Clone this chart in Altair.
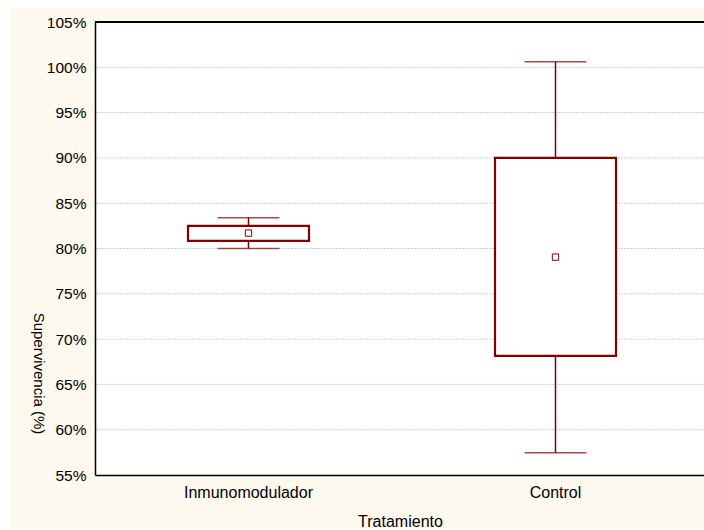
import altair as alt
import pandas as pd

# Group statistics (survival, %)
grupos = ["Inmunomodulador", "Control"]
media = [81.7, 79.05]
caja_inf = [80.85, 68.15]
caja_sup = [82.5, 90.0]
bigote_inf = [80.0, 57.45]
bigote_sup = [83.4, 100.6]

# Y axis ticks and dotted reference lines
marcas_y = [55, 60, 65, 70, 75, 80, 85, 90, 95, 100, 105]
rejilla = [60, 65, 70, 75, 80, 85, 90, 95, 100]
borde_sup = [105]

ROJO = "#800000"
CREMA = "#FEF9EE"
FUENTE = "Liberation Sans"

df = pd.DataFrame({
    "grupo": grupos,
    "media": media,
    "caja_inf": caja_inf,
    "caja_sup": caja_sup,
    "bigote_inf": bigote_inf,
    "bigote_sup": bigote_sup,
})

escala_y = alt.Scale(domain=[55, 105], nice=False, zero=False)
eje_y = alt.Axis(
    values=marcas_y, labelExpr="datum.value + '%'", grid=False, ticks=False,
    labelFontSize=15.5, labelPadding=9, labelColor="black",
    domainColor="black", domainWidth=1.5, zindex=1,
    title="Supervivencia (%)", titleAngle=90, titleFontSize=15,
    titleFontWeight="normal", titleColor="black", titleX=-57, titleY=351,
    titleAlign="center", titleBaseline="middle",
)
eje_x = alt.Axis(
    labelAngle=0, ticks=False, labelFontSize=16, labelPadding=22,
    labelBaseline="alphabetic", labelColor="black",
    domainColor="black", domainWidth=1.5, zindex=1,
    title="Tratamiento", titleFontSize=16, titleFontWeight="normal",
    titleColor="black", titleX=305, titleY=51, titleAlign="center",
    titleBaseline="alphabetic",
)
# the plotting frame runs past the right edge of the figure
escala_x = alt.Scale(domain=grupos, range=[0, 614], paddingInner=0, paddingOuter=0)


def y_campo(campo):
    return alt.Y(f"{campo}:Q", scale=escala_y, axis=eje_y)


x_grupo = alt.X("grupo:N", scale=escala_x, axis=eje_x)

# cream panel behind the whole figure, white plotting area on top of it
fondo = alt.Chart(alt.Data(values=[{}])).mark_rect(color=CREMA).encode(
    x=alt.value(-85), x2=alt.value(630), y=alt.value(-14), y2=alt.value(506)
)
area = alt.Chart(alt.Data(values=[{}])).mark_rect(color="white").encode(
    x=alt.value(0), x2=alt.value(630), y=alt.value(0), y2=alt.value(453)
)

lineas = alt.Chart(pd.DataFrame({"v": rejilla})).mark_rule(
    color="#cfcfcf", strokeDash=[2, 1], strokeWidth=1
).encode(y=y_campo("v"))

techo = alt.Chart(pd.DataFrame({"v": borde_sup})).mark_rule(
    color="black", strokeWidth=2
).encode(y=y_campo("v"))

base = alt.Chart(df)

bigote_abajo = base.mark_rule(color=ROJO, strokeWidth=1.5).encode(
    x=x_grupo, y=y_campo("bigote_inf"), y2="caja_inf:Q"
)
bigote_arriba = base.mark_rule(color=ROJO, strokeWidth=1.5).encode(
    x=x_grupo, y=y_campo("caja_sup"), y2="bigote_sup:Q"
)
tope_inf = base.mark_tick(color=ROJO, size=62, thickness=1.5).encode(
    x=x_grupo, y=y_campo("bigote_inf")
)
tope_sup = base.mark_tick(color=ROJO, size=62, thickness=1.5).encode(
    x=x_grupo, y=y_campo("bigote_sup")
)
cajas = base.mark_bar(size=121, fill="white", stroke=ROJO, strokeWidth=2.2).encode(
    x=x_grupo, y=y_campo("caja_inf"), y2="caja_sup:Q"
)
medias = base.mark_point(
    shape="square", size=40, filled=False, color=ROJO, strokeWidth=1, opacity=1
).encode(x=x_grupo, y=y_campo("media"))

chart = alt.layer(
    fondo, area, lineas, techo, bigote_abajo, bigote_arriba,
    tope_inf, tope_sup, cajas, medias
).properties(
    width=609, height=453,
    autosize=alt.AutoSizeParams(type="none"),
    padding={"left": 95, "top": 22, "right": 0, "bottom": 55},
    background="white",
    view=alt.ViewBackground(strokeWidth=0, strokeOpacity=0, stroke="transparent"),
).configure(font=FUENTE).configure_view(
    strokeWidth=0, strokeOpacity=0, stroke="transparent"
)

chart.save("out.html", embed_options={"renderer": "svg", "actions": False})
